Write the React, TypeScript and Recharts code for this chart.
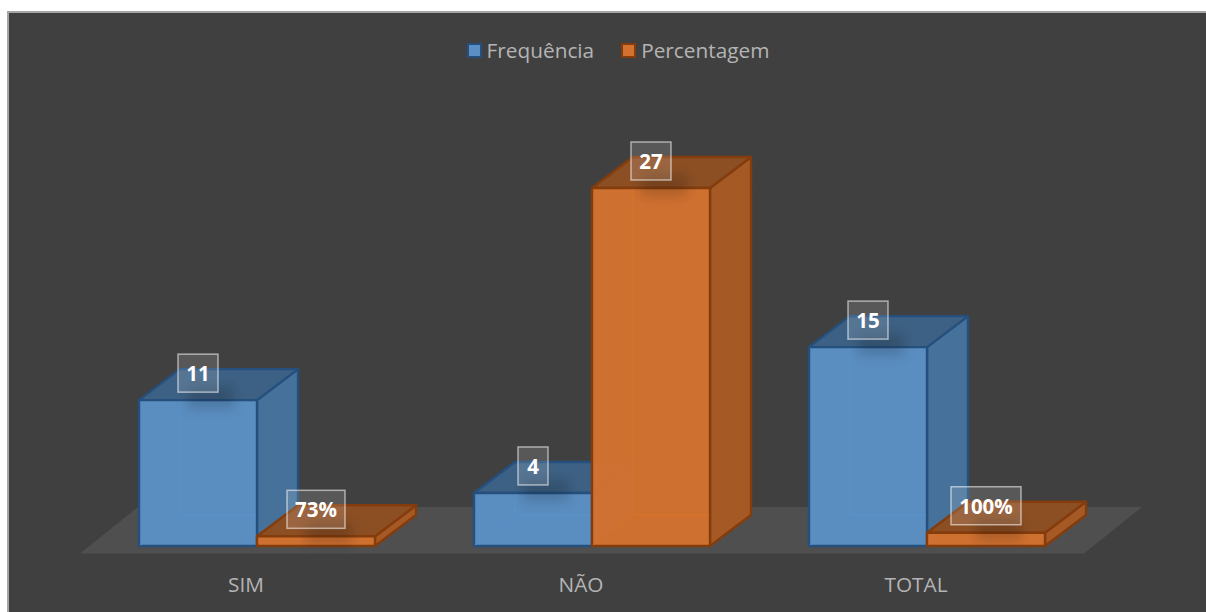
import { BarChart, Bar, XAxis, YAxis, Legend, LabelList } from 'recharts'

const categories = ['SIM', 'NÃO', 'TOTAL']
const frequencia = [11, 4, 15]
const percentagem = [0.73, 27, 1]
const frequenciaLabels = ['11', '4', '15']
const percentagemLabels = ['73%', '27', '100%']

const data = categories.map((name, i) => ({
  name,
  frequencia: frequencia[i],
  percentagem: percentagem[i],
}))

const DEPTH_X = 41
const DEPTH_Y = 31
const FONT = '"Open Sans", "Noto Sans", sans-serif'

const blue = { front: '#5b8fc4', side: '#46719a', top: '#3d6184', edge: '#25507e', inner: '#5a93cc' }
const orange = { front: '#d37230', side: '#a55a26', top: '#8c4f24', edge: '#843c0c', inner: '#da7428' }

function Box3D({ x, y, width, height, palette }: any) {
  const dx = DEPTH_X
  const dy = DEPTH_Y
  const b = y + height
  const r = x + width
  return (
    <g strokeLinejoin="round">
      <polygon points={`${r},${y} ${r + dx},${y - dy} ${r + dx},${b - dy} ${r},${b}`} fill={palette.side} stroke={palette.edge} strokeWidth={2.4} />
      <polygon points={`${x},${y} ${x + dx},${y - dy} ${r + dx},${y - dy} ${r},${y}`} fill={palette.top} stroke={palette.edge} strokeWidth={2.4} />
      <rect x={x} y={y} width={width} height={height} fill={palette.front} fillOpacity={0.97} stroke={palette.edge} strokeWidth={2.4} />
      {/* back edges showing through the front face */}
      {height > 36 && (
        <g stroke={palette.inner} strokeWidth={1.5} strokeOpacity={0.6} fill="none">
          <line x1={x + dx} y1={y + 1} x2={x + dx} y2={b - dy} />
          <line x1={x + dx} y1={b - dy} x2={r - 1} y2={b - dy} />
          <line x1={x + 1} y1={b - 1} x2={x + dx} y2={b - dy} />
        </g>
      )}
    </g>
  )
}

function ValueLabel({ x, y, width, index, labels }: any) {
  const text = labels[index]
  const w = text.length === 4 ? 70 : text.length === 3 ? 58 : text.length === 2 ? 40 : 30
  const h = 38
  const cx = x + width / 2
  const cy = y - 27
  return (
    <g>
      <rect x={cx - 10} y={y - 14} width={46} height={22} fill="#000" fillOpacity={0.16} filter="url(#labelBlur)" />
      <rect x={cx - w / 2} y={cy - h / 2} width={w} height={h} fill="#fff" fillOpacity={0.13} stroke="#fff" strokeOpacity={0.55} strokeWidth={1.5} />
      <text x={cx} y={cy + 8} textAnchor="middle" fill="#fff" fontFamily={FONT} fontSize={20.5} fontWeight={700}>
        {text}
      </text>
    </g>
  )
}

function LegendRow({ payload }: any) {
  const swatches: Record<string, any> = { frequencia: blue, percentagem: orange }
  return (
    <div style={{ display: 'flex', justifyContent: 'center', gap: 27, fontFamily: FONT, fontSize: 20.8, color: '#b4b4b4', lineHeight: '26px' }}>
      {(payload || []).map((p: any) => (
        <span key={p.dataKey} style={{ display: 'flex', alignItems: 'center', gap: 5 }}>
          <span style={{ width: 11, height: 11, background: swatches[p.dataKey].front, border: `2px solid ${swatches[p.dataKey].edge}` }} />
          {p.value}
        </span>
      ))}
    </div>
  )
}

export default function App() {
  return (
    <div style={{ position: 'absolute', left: 0, top: 0, width: 1206, height: 612, background: '#fff', overflow: 'hidden' }}>
      <div style={{ position: 'absolute', left: 7, top: 11, width: 1199, height: 601, background: '#404040', borderTop: '2px solid #a6a6a6', borderLeft: '2px solid #a6a6a6', boxSizing: 'border-box' }} />
      <BarChart
        width={1206}
        height={612}
        data={data}
        margin={{ top: 162, right: 111.5, bottom: 0, left: 89.5 }}
        barCategoryGap={49.5}
        barGap={0}
        style={{ position: 'absolute', left: 0, top: 0 }}
      >
        <defs>
          <filter id="labelBlur" x="-50%" y="-50%" width="200%" height="200%">
            <feGaussianBlur stdDeviation="6" />
          </filter>
        </defs>
        <polygon points="80,553.5 1084,553.5 1142,507 138,507" fill="#504f4f" />
        <XAxis
          dataKey="name"
          axisLine={false}
          tickLine={false}
          height={66}
          interval={0}
          dx={-11}
          dy={23}
          tick={{ fill: '#b4b4b4', fontFamily: FONT, fontSize: 20.8 }}
        />
        <YAxis hide domain={[0, 27]} />
        <Legend verticalAlign="top" align="center" content={<LegendRow />} wrapperStyle={{ top: 37, left: 15, width: 1206 }} />
        <Bar dataKey="frequencia" name="Frequência" isAnimationActive={false} shape={(p: any) => <Box3D {...p} palette={blue} />}>
          <LabelList dataKey="frequencia" content={(p: any) => <ValueLabel {...p} labels={frequenciaLabels} />} />
        </Bar>
        <Bar dataKey="percentagem" name="Percentagem" isAnimationActive={false} shape={(p: any) => <Box3D {...p} palette={orange} />}>
          <LabelList dataKey="percentagem" content={(p: any) => <ValueLabel {...p} labels={percentagemLabels} />} />
        </Bar>
      </BarChart>
    </div>
  )
}
